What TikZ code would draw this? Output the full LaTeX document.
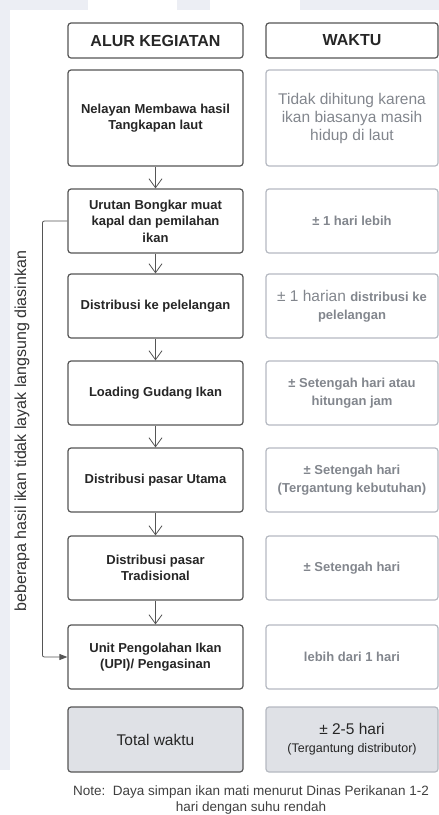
\documentclass[tikz,border=0pt]{standalone}
\usepackage{fontspec}
\setmainfont{Liberation Sans}
\usetikzlibrary{arrows.meta}

\definecolor{boxline}{HTML}{555555}
\definecolor{timeline}{HTML}{B5B9C1}
\definecolor{timetext}{HTML}{82868D}
\definecolor{totalfill}{HTML}{DFE1E6}
\definecolor{wmark}{HTML}{ECEEF4}
\newcommand{\boldsm}[1]{{\fontsize{13}{17.5}\selectfont\bfseries #1}}

\begin{document}
\begin{tikzpicture}[x=1pt, y=-1pt,
    flowbox/.style={draw=boxline, line width=1.2pt, rounded corners=3pt, minimum width=175pt, minimum height=64pt, align=center, text=black!85, font=\fontsize{13}{16.5}\selectfont\bfseries},
    timebox/.style={draw=timeline, line width=1.2pt, rounded corners=3pt, minimum width=172pt, minimum height=64pt, align=center, text=timetext, font=\fontsize{15.5}{18}\selectfont},
    headbox/.style={flowbox, minimum height=35pt, font=\fontsize{16}{19}\selectfont\bfseries},
    flowarrow/.style={-{Straight Barb[length=9pt,width=13pt]}, boxline, line width=0.8pt}]

    \useasboundingbox (0,0) rectangle (439,815);

    % watermark
    \fill[wmark] (0,0) rectangle (88,10);
    \fill[wmark] (177,0) rectangle (210,10);
    \fill[wmark] (300,0) rectangle (439,10);
    \fill[wmark] (0,10) rectangle (10,770);

    % Nodes
    \node[headbox] (h1) at (155.5,40.5) {ALUR KEGIATAN};
    \node[headbox, minimum width=172pt] (h2) at (352,40.5) {WAKTU};

    \node[flowbox, minimum height=96pt] (f1) at (155.5,118) {Nelayan Membawa hasil\\Tangkapan laut};
    \node[flowbox] (f2) at (155.5,221) {Urutan Bongkar muat\\kapal dan pemilahan\\ikan};
    \node[flowbox] (f3) at (155.5,306) {Distribusi ke pelelangan};
    \node[flowbox] (f4) at (155.5,393) {Loading Gudang Ikan};
    \node[flowbox] (f5) at (155.5,480) {Distribusi pasar Utama};
    \node[flowbox] (f6) at (155.5,568) {Distribusi pasar\\Tradisional};
    \node[flowbox] (f7) at (155.5,657) {Unit Pengolahan Ikan\\(UPI)/ Pengasinan};
    \node[flowbox, fill=totalfill, minimum height=65pt, text=black!85, font=\fontsize{15.5}{19}\selectfont] (ft) at (155.5,739.5) {Total waktu};

    \node[timebox, minimum height=96pt] (t1) at (352,118) {Tidak dihitung karena\\ikan biasanya masih\\hidup di laut};
    \node[timebox] (t2) at (352,221) {\boldsm{± 1 hari lebih}};
    \node[timebox] (t3) at (352,306) {± 1 harian \boldsm{distribusi ke}\\\boldsm{pelelangan}};
    \node[timebox] (t4) at (352,393) {\boldsm{± Setengah hari atau}\\\boldsm{hitungan jam}};
    \node[timebox] (t5) at (352,480) {\boldsm{± Setengah hari}\\\boldsm{(Tergantung kebutuhan)}};
    \node[timebox] (t6) at (352,568) {\boldsm{± Setengah hari}};
    \node[timebox] (t7) at (352,657) {\boldsm{lebih dari 1 hari}};
    \node[timebox, fill=totalfill, minimum height=65pt, text=black!85] (tt) at (352,739.5) {± 2-5 hari\\{\fontsize{12.5}{15}\selectfont (Tergantung distributor)}};

    \node[rotate=90, text=black!80, font=\fontsize{16}{19}\selectfont] (side) at (22,431) {beberapa hasil ikan tidak layak langsung diasinkan};

    \node[align=center, text=black!75, font=\fontsize{13.5}{16}\selectfont] (note) at (251,800) {Note:\ \ Daya simpan ikan mati menurut Dinas Perikanan 1-2\\hari dengan suhu rendah};

    % Edges
    \foreach \a/\b in {f1/f2,f2/f3,f3/f4,f4/f5,f5/f6,f6/f7} {
        \draw[flowarrow] (\a) -- (\b);
    }
    \draw[-{Triangle[length=8pt,width=6pt]}, boxline, line width=0.8pt, rounded corners=2pt] (f2.west) -- ++(-25,0) |- (f7.west);
\end{tikzpicture}
\end{document}
